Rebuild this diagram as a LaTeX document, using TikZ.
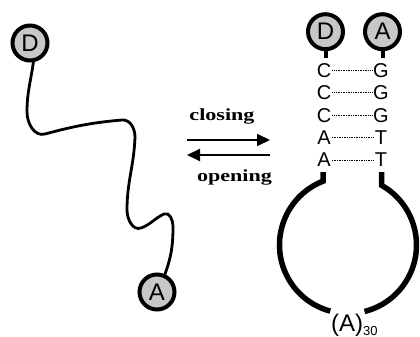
\documentclass[tikz,border=0pt]{standalone}
\usepackage{fontspec}
\setmainfont{Liberation Sans}
\newfontfamily\serifb{Liberation Serif}
\usetikzlibrary{arrows.meta}
\begin{document}
\begin{tikzpicture}[x=1pt,y=1pt,
  bead/.style={circle,draw=black,line width=4pt,fill=black!22,minimum size=35pt,inner sep=0pt,font=\fontsize{24}{24}\selectfont},
  nuc/.style={inner sep=1pt,font=\fontsize{20}{20}\selectfont},
  wire/.style={line width=2.8pt,line cap=round},
  stub/.style={line width=4pt},
  ring/.style={line width=5.5pt},
  pair/.style={line width=1pt,dash pattern=on 0.8pt off 0.9pt},
  react/.style={line width=2pt,-{Triangle[length=13pt,width=12pt]}},
  lbl/.style={font=\fontsize{17}{17}\selectfont\serifb\bfseries,inner sep=0pt}]
\useasboundingbox (0,0) rectangle (420,-337);

% ---- open (random coil) state ----
\node[bead] (D1) at (30,-43) {D};
\node[bead] (A1) at (157,-292) {A};
\draw[wire] (D1.-80) to[out=-98,in=90] (27,-112)
  to[out=-90,in=195] (45,-134)
  to[out=15,in=185] (122,-120)
  to[out=5,in=90] (135,-137)
  to[out=-92,in=90] (127,-210)
  to[out=-90,in=200] (141,-228)
  to[out=20,in=205] (164,-214)
  to[out=25,in=90] (173,-226)
  to[out=-90,in=70] (A1.66);

% ---- reaction arrows ----
\coordinate (r1) at (187,-140);
\coordinate (r2) at (270,-140);
\coordinate (l1) at (270,-155);
\coordinate (l2) at (187,-155);
\draw[react] (r1) -- (r2);
\draw[react] (l1) -- (l2);
\node[lbl,anchor=base] (cl) at (222,-120.7) {\scalebox{1.3}[1]{closing}};
\node[lbl,anchor=base] (op) at (234.5,-181) {\scalebox{1.3}[1]{opening}};

% ---- hairpin (closed) state ----
\node[bead] (D2) at (325.5,-31.7) {D};
\node[bead] (A2) at (382.5,-31.7) {A};
\draw[stub] (D2.south) -- ++(0,-7);
\draw[stub] (A2.south) -- ++(0,-7);

\foreach \i/\l/\r in {1/C/G,2/C/G,3/C/G,4/A/T,5/A/T}{
  \node[nuc] (c\i) at (324,{-70.5-22.4*(\i-1)}) {\l};
  \node[nuc] (g\i) at (381,{-70.5-22.4*(\i-1)}) {\r};
  \draw[pair] (c\i.east) -- (g\i.west);
}

\coordinate (lt) at (323,-172);
\coordinate (rt) at (381.7,-172);
\draw[ring] (lt) -- (323,-181.2) arc[start angle=111.4,end angle=255,radius=68.5];
\draw[ring] (rt) -- (381.7,-185.4) arc[start angle=60.5,end angle=-76,radius=68.5];

\node[anchor=base west,inner sep=0pt] (poly) at (331,-331.5)
  {{\fontsize{24}{24}\selectfont (A)}\raisebox{-4pt}{\fontsize{13}{13}\selectfont 30}};
\end{tikzpicture}
\end{document}
